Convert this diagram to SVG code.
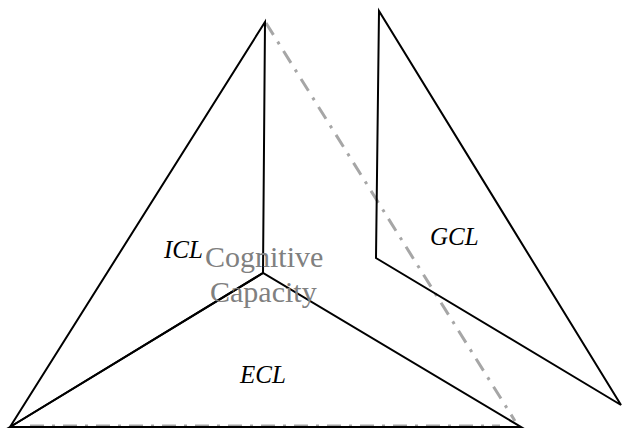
<svg xmlns="http://www.w3.org/2000/svg" width="622" height="428" viewBox="0 0 622 428">
<style>
.ln{stroke:#000;stroke-width:2;fill:none;stroke-linejoin:miter}
.gr{stroke:#a6a6a6;stroke-width:3;fill:none;stroke-dasharray:14 8 3 8}
.lbl{font-family:"Liberation Serif","Times New Roman",serif;font-style:italic;font-size:25px;fill:#000}
.cap{font-family:"Liberation Serif","Times New Roman",serif;font-size:30px;fill:#808080}
</style>
<rect width="622" height="428" fill="#fff"/>
<g id="connectors">
<line class="gr" x1="30" y1="426" x2="500" y2="426"/>
<line class="gr" x1="266" y1="23" x2="515" y2="421"/>
</g>
<g id="left-triangle">
<path class="ln" d="M10 427 L265 22 L263 273 Z"/>
<path class="ln" d="M10 427 L263 273 L521 427 Z"/>
</g>
<g id="right-shape">
<path class="ln" d="M379 11 L376 258 L621 405 Z"/>
</g>
<g id="ICL"><text class="lbl" x="164" y="258">ICL</text></g>
<g id="capacity">
<text class="cap" x="205" y="267">Cognitive</text>
<text class="cap" x="210" y="302">Capacity</text>
</g>
<g id="GCL"><text class="lbl" x="430" y="245">GCL</text></g>
<g id="ECL"><text class="lbl" x="240" y="383">ECL</text></g>
</svg>
